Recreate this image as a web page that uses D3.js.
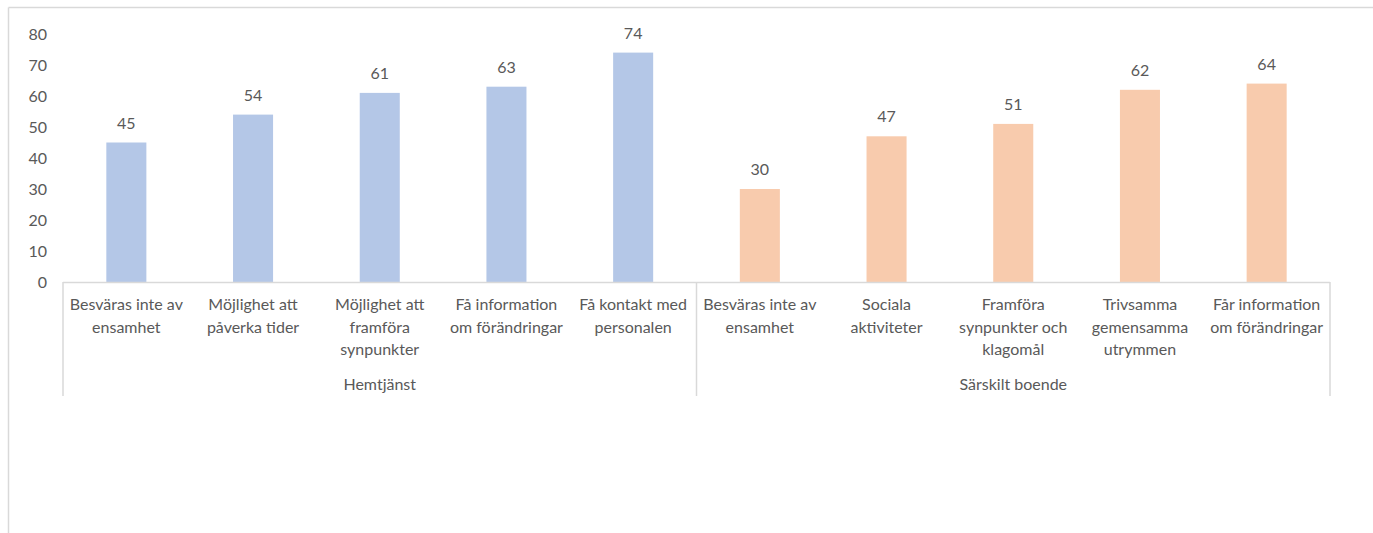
<!DOCTYPE html>
<html>
<head>
<meta charset="utf-8">
<script src="https://cdn.jsdelivr.net/npm/d3@7"></script>
<style>
  html, body { margin: 0; padding: 0; background: #fff; }
  svg { display: block; }
  text { font-family: Lato, "Open Sans", sans-serif; fill: #595959; }
</style>
</head>
<body>
<svg id="chart" width="1373" height="533"></svg>
<script>
// Survey results: share of positive answers per question, by service type
const groups = ["Hemtjänst", "Särskilt boende"];
const hemtjanstLabels = [
  ["Besväras inte av", "ensamhet"],
  ["Möjlighet att", "påverka tider"],
  ["Möjlighet att", "framföra", "synpunkter"],
  ["Få information", "om förändringar"],
  ["Få kontakt med", "personalen"]
];
const boendeLabels = [
  ["Besväras inte av", "ensamhet"],
  ["Sociala", "aktiviteter"],
  ["Framföra", "synpunkter och", "klagomål"],
  ["Trivsamma", "gemensamma", "utrymmen"],
  ["Får information", "om förändringar"]
];
const hemtjanstValues = [45, 54, 61, 63, 74];
const boendeValues = [30, 47, 51, 62, 64];
const groupColors = ["#B4C7E7", "#F8CBAD"];
const yTicks = [0, 10, 20, 30, 40, 50, 60, 70, 80];

const rows = [];
[hemtjanstLabels, boendeLabels].forEach((labels, g) => {
  const vals = g === 0 ? hemtjanstValues : boendeValues;
  labels.forEach((lab, i) => rows.push({ key: g + "-" + i, group: g, lines: lab, value: vals[i] }));
});

const svg = d3.select("#chart");
const lineColor = "#D9D9D9";
const fontSize = 16;

// outer chart frame (top and left edges visible)
svg.append("line").attr("x1", 8.5).attr("x2", 1373).attr("y1", 7.5).attr("y2", 7.5)
  .attr("stroke", lineColor).attr("stroke-width", 1.5);
svg.append("line").attr("x1", 8.5).attr("x2", 8.5).attr("y1", 7.5).attr("y2", 533)
  .attr("stroke", lineColor).attr("stroke-width", 1.5);

const plotLeft = 63, plotRight = 1330, plotTop = 34, plotBottom = 282;

const x = d3.scaleBand().domain(rows.map(d => d.key)).range([plotLeft, plotRight]).paddingInner(0.684).paddingOuter(0.342);
const y = d3.scaleLinear().domain([0, 80]).range([plotBottom, plotTop]);

// y axis labels
const yAxis = svg.append("g").attr("transform", `translate(${plotLeft - 8},0)`)
  .call(d3.axisLeft(y).tickValues(yTicks).tickSize(0).tickPadding(8));
yAxis.select(".domain").remove();
yAxis.selectAll("text").attr("font-size", fontSize).attr("fill", "#595959")
  .style("font-family", "Lato, 'Open Sans', sans-serif");

// bars
svg.append("g").selectAll("rect").data(rows).join("rect")
  .attr("x", d => x(d.key))
  .attr("width", x.bandwidth())
  .attr("y", d => y(d.value))
  .attr("height", d => y(0) - y(d.value))
  .attr("fill", d => groupColors[d.group]);

// value labels
svg.append("g").selectAll("text").data(rows).join("text")
  .attr("x", d => x(d.key) + x.bandwidth() / 2)
  .attr("y", d => y(d.value) - 14)
  .attr("text-anchor", "middle")
  .attr("font-size", fontSize)
  .text(d => d.value);

// category axis line
svg.append("line").attr("x1", plotLeft).attr("x2", plotRight)
  .attr("y1", plotBottom + 0.5).attr("y2", plotBottom + 0.5)
  .attr("stroke", lineColor).attr("stroke-width", 1.5);

// group separators
const step = x.step();
const boundaries = [plotLeft, plotLeft + step * 5, plotRight];
svg.append("g").selectAll("line").data(boundaries).join("line")
  .attr("x1", d => d).attr("x2", d => d)
  .attr("y1", plotBottom).attr("y2", 396)
  .attr("stroke", lineColor).attr("stroke-width", 1.5);

// category labels
const cat = svg.append("g").selectAll("text").data(rows).join("text")
  .attr("x", d => x(d.key) + x.bandwidth() / 2)
  .attr("y", 310)
  .attr("text-anchor", "middle")
  .attr("font-size", fontSize);
cat.each(function (d) {
  const t = d3.select(this);
  d.lines.forEach((ln, i) => {
    t.append("tspan").attr("x", x(d.key) + x.bandwidth() / 2).attr("dy", i === 0 ? 0 : 22.5).text(ln);
  });
});

// group labels
svg.append("g").selectAll("text").data(groups).join("text")
  .attr("x", (d, i) => (boundaries[i] + boundaries[i + 1]) / 2)
  .attr("y", 390)
  .attr("text-anchor", "middle")
  .attr("font-size", fontSize)
  .text(d => d);
</script>
</body>
</html>
